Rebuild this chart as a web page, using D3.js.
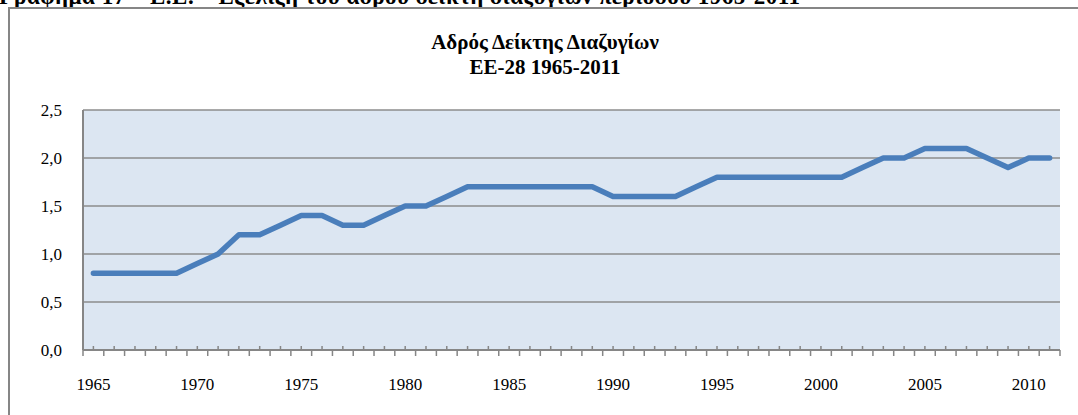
<!DOCTYPE html>
<html>
<head>
<meta charset="utf-8">
<script src="https://cdn.jsdelivr.net/npm/d3@7"></script>
<style>
  body { margin: 0; background: #fff; }
  svg { display: block; font-family: "Liberation Serif", "Times New Roman", serif; }
</style>
</head>
<body>
<svg width="1078" height="415"></svg>
<script>
var years = d3.range(1965, 2012);
var rates = [0.8, 0.8, 0.8, 0.8, 0.8, 0.9, 1.0, 1.2, 1.2, 1.3,
             1.4, 1.4, 1.3, 1.3, 1.4, 1.5, 1.5, 1.6, 1.7, 1.7,
             1.7, 1.7, 1.7, 1.7, 1.7, 1.6, 1.6, 1.6, 1.6, 1.7,
             1.8, 1.8, 1.8, 1.8, 1.8, 1.8, 1.8, 1.9, 2.0, 2.0,
             2.1, 2.1, 2.1, 2.0, 1.9, 2.0, 2.0];
var yTicks = [0, 0.5, 1.0, 1.5, 2.0, 2.5];
var xLabels = [1965, 1970, 1975, 1980, 1985, 1990, 1995, 2000, 2005, 2010];
var heading = "Γράφημα 17 – Ε.Ε. – Εξέλιξη του αδρού δείκτη διαζυγίων περιόδου 1965-2011";
var titleLines = ["Αδρός Δείκτης Διαζυγίων", "ΕΕ-28 1965-2011"];

var svg = d3.select("svg");

// plot box (don't call it "top", that one is taken by window)
var plotLeft = 83, plotRight = 1060, plotTop = 110, plotBottom = 350;

var x = d3.scaleBand()
    .domain(years)
    .range([plotLeft, plotRight])
    .padding(0);

var y = d3.scaleLinear()
    .domain([0, 2.5])
    .range([plotBottom, plotTop]);

// heading of the page, cut off at the top
svg.append("text")
    .attr("x", -1)
    .attr("y", 4)
    .attr("font-size", 23)
    .attr("font-weight", "bold")
    .attr("fill", "#000")
    .attr("textLength", 801)
    .attr("lengthAdjust", "spacing")
    .text(heading);

// chart frame
svg.append("rect")
    .attr("x", 9)
    .attr("y", 8)
    .attr("width", 1100)
    .attr("height", 450)
    .attr("fill", "none")
    .attr("stroke", "#868686")
    .attr("stroke-width", 2);

// title
svg.append("g")
    .selectAll("text")
    .data(titleLines)
  .enter().append("text")
    .attr("x", 545)
    .attr("y", function(d, i) { return 49 + i * 25; })
    .attr("text-anchor", "middle")
    .attr("font-size", 21)
    .attr("font-weight", "bold")
    .text(function(d) { return d; });

// plot area
svg.append("rect")
    .attr("x", plotLeft)
    .attr("y", plotTop)
    .attr("width", plotRight - plotLeft)
    .attr("height", plotBottom - plotTop)
    .attr("fill", "#dce6f2");

svg.append("g")
    .selectAll("line")
    .data(yTicks.slice(1))
  .enter().append("line")
    .attr("x1", plotLeft)
    .attr("x2", plotRight)
    .attr("y1", function(d) { return y(d); })
    .attr("y2", function(d) { return y(d); })
    .attr("stroke", "#8c8c8c")
    .attr("stroke-width", 1.5);

// y axis
svg.append("line")
    .attr("x1", plotLeft).attr("x2", plotLeft)
    .attr("y1", plotTop).attr("y2", plotBottom)
    .attr("stroke", "#868686")
    .attr("stroke-width", 2);

svg.append("g")
    .selectAll("text")
    .data(yTicks)
  .enter().append("text")
    .attr("x", 62)
    .attr("y", function(d) { return y(d) + 6; })
    .attr("text-anchor", "end")
    .attr("font-size", 17)
    .text(function(d) { return d3.format(".1f")(d).replace(".", ","); });

// x axis
svg.append("line")
    .attr("x1", plotLeft).attr("x2", plotRight)
    .attr("y1", plotBottom).attr("y2", plotBottom)
    .attr("stroke", "#868686")
    .attr("stroke-width", 2);

var bounds = years.map(function(d) { return x(d); }).concat([plotRight]);
svg.append("g")
    .selectAll("line")
    .data(bounds)
  .enter().append("line")
    .attr("x1", function(d) { return d; })
    .attr("x2", function(d) { return d; })
    .attr("y1", plotBottom)
    .attr("y2", plotBottom + 6)
    .attr("stroke", "#868686")
    .attr("stroke-width", 1.5);

svg.append("g")
    .selectAll("line")
    .data(years)
  .enter().append("line")
    .attr("x1", function(d) { return x(d) + x.bandwidth() / 2; })
    .attr("x2", function(d) { return x(d) + x.bandwidth() / 2; })
    .attr("y1", plotBottom - 4)
    .attr("y2", plotBottom)
    .attr("stroke", "#868686")
    .attr("stroke-width", 1.5);

svg.append("g")
    .selectAll("text")
    .data(xLabels)
  .enter().append("text")
    .attr("x", function(d) { return x(d) + x.bandwidth() / 2; })
    .attr("y", 390)
    .attr("text-anchor", "middle")
    .attr("font-size", 17)
    .text(function(d) { return d; });

// series line
var line = d3.line()
    .x(function(d, i) { return x(years[i]) + x.bandwidth() / 2; })
    .y(function(d) { return y(d); });

svg.append("path")
    .datum(rates)
    .attr("d", line)
    .attr("fill", "none")
    .attr("stroke", "#4a7ebb")
    .attr("stroke-width", 5.5)
    .attr("stroke-linejoin", "round")
    .attr("stroke-linecap", "round");
</script>
</body>
</html>
